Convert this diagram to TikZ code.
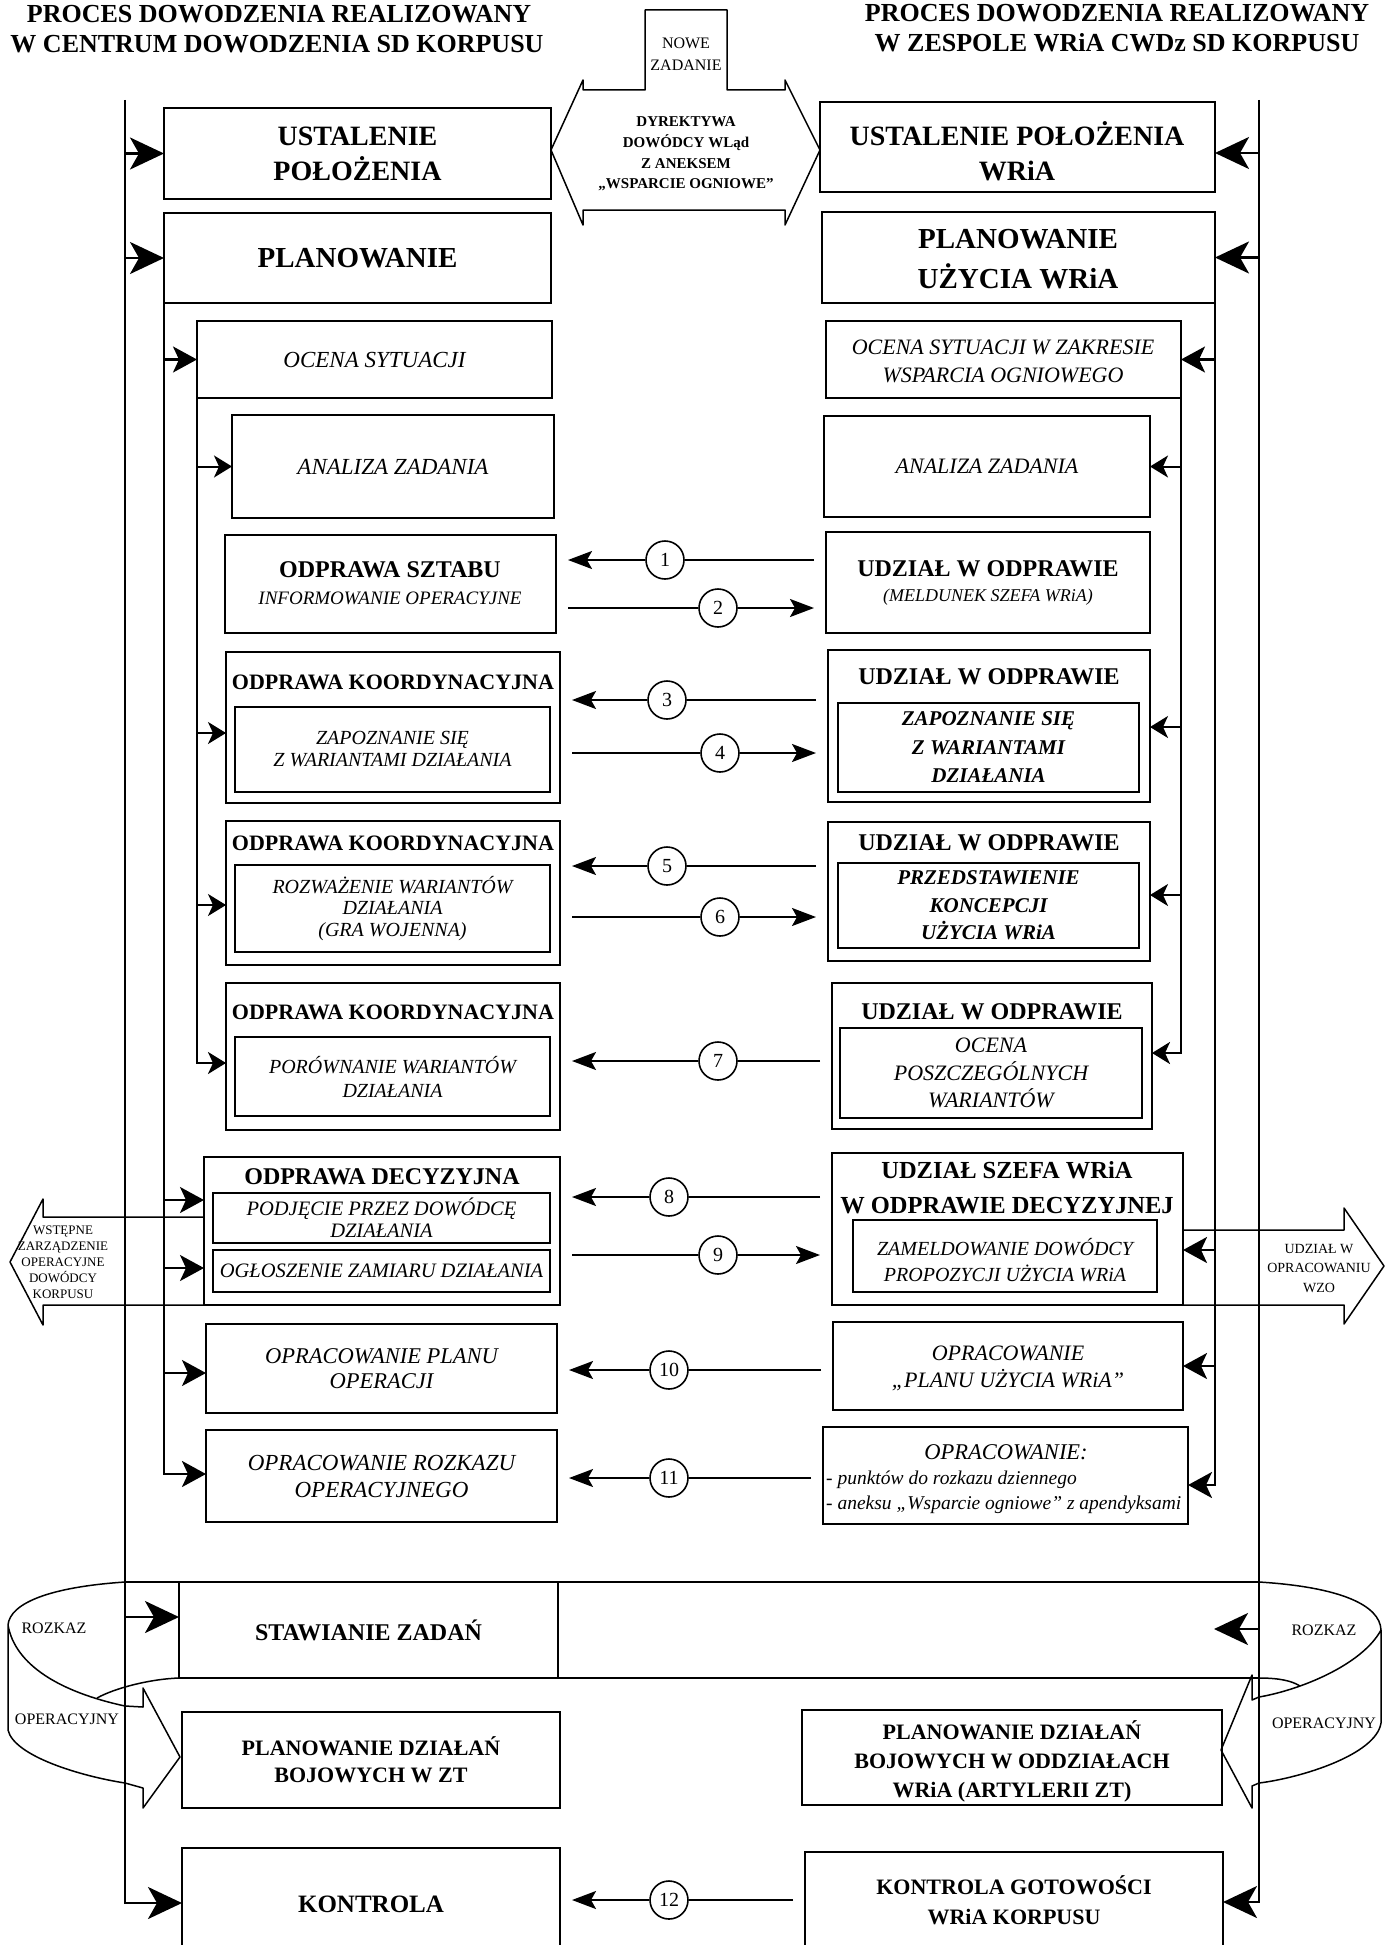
\documentclass[tikz,border=0pt]{standalone}
\usepackage{fontspec}
\setmainfont{Liberation Serif}
\usetikzlibrary{arrows.meta}
\newcommand{\mkbox}[7]{\node[bx,#6,minimum width={(#4-#2)*1pt},minimum height={(#5-#3)*1pt}] (#1) at (#2,#3) {#7};}
\newcommand{\numar}[6]{\node[numc] (#1) at (#2,#3) {#6};\draw[numl] (#4 |- #1) -- (#1);\draw[numa] (#1) -- (#5 |- #1);}
\begin{document}
\begin{tikzpicture}[x=1pt,y=-1pt,
 bx/.style={draw,line width=2.2pt,anchor=north west,inner sep=0pt,outer sep=0pt},
 tx/.style={inner sep=0pt,align=center},
 fb/.style 2 args={font=\fontsize{#1}{#2}\selectfont\bfseries},
 fi/.style 2 args={font=\fontsize{#1}{#2}\selectfont\itshape},
 fbi/.style 2 args={font=\fontsize{#1}{#2}\selectfont\bfseries\itshape},
 fr/.style 2 args={font=\fontsize{#1}{#2}\selectfont},
 vl/.style={line width=2.6pt},
 big/.style={line width=2.6pt,-{Stealth[length=34pt,width=32pt,inset=9pt]}},
 med/.style={line width=2.2pt,-{Stealth[length=24pt,width=26pt,inset=6pt]}},
 sml/.style={line width=2pt,-{Stealth[length=18pt,width=22pt,inset=5pt]}},
 numc/.style={draw,circle,line width=1.6pt,minimum size=38pt,inner sep=0pt,font=\fontsize{20}{20}\selectfont},
 numl/.style={line width=2pt,shorten <=12pt},
 numa/.style={line width=2pt,shorten >=12pt,-{Stealth[length=24pt,width=18pt,inset=5pt]}},
 hol/.style={line width=1.5pt,line join=round}]
\fill[white] (0,0) rectangle (1389,1945);
\useasboundingbox (0,0) rectangle (1389,1945);
% titles
\node[tx,fb={26}{26}] (tl1) at (279,14) {PROCES DOWODZENIA REALIZOWANY};
\node[tx,fb={26}{26}] (tl2) at (277,44) {W CENTRUM DOWODZENIA SD KORPUSU};
\node[tx,fb={26}{26}] (tr1) at (1117,13) {PROCES DOWODZENIA REALIZOWANY};
\node[tx,fb={26}{26}] (tr2) at (1117,43) {W ZESPOLE WRiA CWDz SD KORPUSU};
% top double arrow
\draw[hol] (645,10) -- (727,10) -- (727,90) -- (785,90) -- (785,80) -- (820,150) -- (785,225) -- (785,210) -- (583,210) -- (583,225) -- (551,150) -- (583,80) -- (583,90) -- (645,90) -- cycle;
\node[tx,fr={16}{22}] (nz) at (686,54) {NOWE\\ZADANIE};
\node[tx,fb={15}{20.7}] (dyr) at (686,154) {DYREKTYWA\\DOWÓDCY WLąd\\Z ANEKSEM\\„WSPARCIE OGNIOWE”};
% left column
\mkbox{ustL}{164}{108}{551}{199}{tx,fb={28}{35}}{USTALENIE\\POŁOŻENIA}
\mkbox{planL}{164}{213}{551}{303}{tx,fb={29}{29}}{PLANOWANIE}
\mkbox{ocenaL}{197}{321}{552}{398}{tx,fi={23}{23}}{OCENA SYTUACJI}
\mkbox{analizaL}{232}{415}{554}{518}{tx,fi={23}{23}}{ANALIZA ZADANIA}
\mkbox{sztabL}{225}{535}{556}{633}{}{}
\node[tx,fb={24}{24}] (sztabLt) at (390,570) {ODPRAWA SZTABU};
\node[tx,fi={19}{19}] (sztabLs) at (390,598) {INFORMOWANIE OPERACYJNE};
\mkbox{k1L}{226}{652}{560}{803}{}{}
\node[tx,fb={22}{22}] (k1Lt) at (393,682) {ODPRAWA KOORDYNACYJNA};
\mkbox{k1Li}{235}{707}{550}{792}{tx,fi={20}{22}}{ZAPOZNANIE SIĘ\\Z WARIANTAMI DZIAŁANIA}
\mkbox{k2L}{226}{821}{560}{965}{}{}
\node[tx,fb={22}{22}] (k2Lt) at (393,843) {ODPRAWA KOORDYNACYJNA};
\mkbox{k2Li}{235}{865}{550}{952}{tx,fi={20}{21.5}}{ROZWAŻENIE WARIANTÓW\\DZIAŁANIA\\(GRA WOJENNA)}
\mkbox{k3L}{226}{983}{560}{1130}{}{}
\node[tx,fb={22}{22}] (k3Lt) at (393,1012) {ODPRAWA KOORDYNACYJNA};
\mkbox{k3Li}{235}{1037}{550}{1116}{tx,fi={20}{24}}{PORÓWNANIE WARIANTÓW\\DZIAŁANIA}
\mkbox{decL}{204}{1157}{560}{1305}{}{}
\node[tx,fb={24}{24}] (decLt) at (382,1177) {ODPRAWA DECYZYJNA};
\mkbox{decLa}{213}{1193}{550}{1243}{tx,fi={20.5}{22}}{PODJĘCIE PRZEZ DOWÓDCĘ\\DZIAŁANIA}
\mkbox{decLb}{213}{1250}{550}{1292}{tx,fi={20.5}{20.5}}{OGŁOSZENIE ZAMIARU DZIAŁANIA}
\mkbox{planopL}{206}{1324}{557}{1413}{tx,fi={22.5}{25}}{OPRACOWANIE PLANU\\OPERACJI}
\mkbox{rozkazL}{206}{1430}{557}{1522}{tx,fi={23}{27}}{OPRACOWANIE ROZKAZU\\OPERACYJNEGO}
\mkbox{stawL}{179}{1582}{558}{1678}{tx,fb={24}{24}}{STAWIANIE ZADAŃ}
\mkbox{planZT}{182}{1712}{560}{1808}{tx,fb={22}{27}}{PLANOWANIE DZIAŁAŃ\\BOJOWYCH W ZT}
\mkbox{kontrolaL}{182}{1848}{560}{1960}{tx,fb={25}{25}}{KONTROLA}
% right column
\mkbox{ustR}{820}{102}{1215}{192}{}{}
\node[tx,fb={28}{35}] (ustRt) at (1017,151) {USTALENIE POŁOŻENIA\\WRiA};
\mkbox{planR}{822}{212}{1215}{303}{}{}
\node[tx,fb={29}{40}] (planRt) at (1018,259) {PLANOWANIE\\UŻYCIA WRiA};
\mkbox{ocenaR}{826}{321}{1181}{398}{}{}
\node[tx,fi={22}{28}] (ocenaRt) at (1003,361) {OCENA SYTUACJI W ZAKRESIE\\WSPARCIA OGNIOWEGO};
\mkbox{analizaR}{824}{416}{1150}{517}{tx,fi={22}{22}}{ANALIZA ZADANIA}
\mkbox{udzR}{826}{532}{1150}{633}{}{}
\node[tx,fb={24}{24}] (udzRt) at (988,569) {UDZIAŁ W ODPRAWIE};
\node[tx,fi={18}{18}] (udzRs) at (988,597) {(MELDUNEK SZEFA WRiA)};
\mkbox{k1R}{828}{650}{1150}{802}{}{}
\node[tx,fb={24}{24}] (k1Rt) at (989,677) {UDZIAŁ W ODPRAWIE};
\mkbox{k1Ri}{838}{703}{1139}{792}{tx,fbi={21}{28.5}}{ZAPOZNANIE SIĘ\\Z WARIANTAMI\\DZIAŁANIA}
\mkbox{k2R}{828}{822}{1150}{961}{}{}
\node[tx,fb={24}{24}] (k2Rt) at (989,843) {UDZIAŁ W ODPRAWIE};
\mkbox{k2Ri}{838}{863}{1139}{948}{tx,fbi={21}{27.5}}{PRZEDSTAWIENIE\\KONCEPCJI\\UŻYCIA WRiA}
\mkbox{k3R}{832}{983}{1152}{1129}{}{}
\node[tx,fb={24}{24}] (k3Rt) at (992,1012) {UDZIAŁ W ODPRAWIE};
\mkbox{k3Ri}{840}{1028}{1142}{1118}{tx,fi={22}{27.5}}{OCENA\\POSZCZEGÓLNYCH\\WARIANTÓW}
\mkbox{decR}{832}{1153}{1183}{1305}{}{}
\node[tx,fb={24.5}{35}] (decRt) at (1007,1188) {UDZIAŁ SZEFA WRiA\\W ODPRAWIE DECYZYJNEJ};
\mkbox{decRi}{853}{1220}{1157}{1292}{}{}
\node[tx,fi={20}{26}] (decRit) at (1005,1260) {ZAMELDOWANIE DOWÓDCY\\PROPOZYCJI UŻYCIA WRiA};
\mkbox{planR2}{833}{1322}{1183}{1410}{}{}
\node[tx,fi={22}{27}] (planR2t) at (1008,1368) {OPRACOWANIE\\„PLANU UŻYCIA WRiA”};
\mkbox{rozkazR}{823}{1427}{1188}{1524}{}{}
\node[tx,fi={22.5}{22.5}] (rozkazRt) at (1006,1452) {OPRACOWANIE:};
\node[inner sep=0pt,anchor=west,fi={19.5}{19.5}] (rozkazRa) at (826,1480) {- punktów do rozkazu dziennego};
\node[inner sep=0pt,anchor=west,fi={19.5}{19.5}] (rozkazRb) at (826,1505) {- aneksu „Wsparcie ogniowe” z apendyksami};
\mkbox{planR3}{802}{1710}{1222}{1805}{}{}
\node[tx,fb={22}{29}] (planR3t) at (1012,1761) {PLANOWANIE DZIAŁAŃ\\BOJOWYCH W ODDZIAŁACH\\WRiA (ARTYLERII ZT)};
\mkbox{kontrolaR}{805}{1852}{1223}{1960}{}{}
\node[tx,fb={22}{30}] (kontrolaRt) at (1014,1900) {KONTROLA GOTOWOŚCI\\WRiA KORPUSU};
% hollow side arrows
\draw[hol] (decL.west |- 0,1217) -- (43,1217) -- (43,1199) -- (10,1262) -- (43,1325) -- (43,1305) -- (decL.south west);
\node[tx,fr={13}{16}] (wst) at (63,1262) {WSTĘPNE\\ZARZĄDZENIE\\OPERACYJNE\\DOWÓDCY\\KORPUSU};
\draw[hol] (decR.east |- 0,1230) -- (1344,1230) -- (1344,1208) -- (1384,1266) -- (1344,1324) -- (1344,1305) -- (decR.south east);
\node[tx,fr={14}{19.5}] (udzw) at (1319,1268) {UDZIAŁ W\\OPRACOWANIU\\WZO};
% band and ribbons
\draw[line width=2pt] (125,1582) -- (1259,1582);
\draw[line width=2pt] (stawL.south east) -- (1259,1678);
\draw[hol] (125,1582) .. controls (50,1587) and (10,1603) .. (8,1625) -- (8,1730) .. controls (14,1756) and (80,1776) .. (125,1783) -- (143,1788) -- (143,1808) -- (180,1757) -- (143,1688) -- (143,1707) -- (125,1706) .. controls (60,1692) and (15,1665) .. (8,1625);
\draw[hol] (stawL.south west) .. controls (150,1679) and (115,1688) .. (97,1698);
\draw[hol] (1259,1582) .. controls (1340,1587) and (1380,1605) .. (1381,1630) -- (1381,1723) .. controls (1376,1755) and (1300,1778) .. (1259,1783) -- (1252,1786) -- (1252,1808) -- (1221,1750) -- (1252,1675) -- (1252,1700) -- (1259,1697) .. controls (1300,1690) and (1362,1665) .. (1381,1630);
\draw[hol] (1259,1678) .. controls (1280,1678) and (1292,1681) .. (1300,1686);
\node[tx,fr={16}{16}] (rozL) at (54,1628) {ROZKAZ};
\node[tx,fr={16}{16}] (opL) at (67,1719) {OPERACYJNY};
\node[tx,fr={16}{16}] (rozR) at (1324,1630) {ROZKAZ};
\node[tx,fr={16}{16}] (opR) at (1324,1723) {OPERACYJNY};
% vertical lines
\coordinate (LoT) at (125,100); \coordinate (LoB) at (125,1903);
\coordinate (LsT) at (164,303); \coordinate (LsB) at (164,1474);
\coordinate (LtT) at (197,398); \coordinate (LtB) at (197,1063);
\coordinate (RoT) at (1259,100); \coordinate (RoB) at (1259,1902);
\coordinate (RsT) at (1215,303); \coordinate (RsB) at (1215,1485);
\coordinate (RtT) at (1181,398); \coordinate (RtB) at (1181,1053);
\draw[big] (LoT) -- (LoB) -- (kontrolaL.west |- LoB);
\draw[med,line width=2.6pt] (LsT) -- (LsB) -- (rozkazL.west |- LsB);
\draw[sml,line width=2.6pt] (LtT) -- (LtB) -- (k3L.west |- LtB);
\draw[big] (RoT) -- (RoB) -- (kontrolaR.east |- RoB);
\draw[med,line width=2.6pt] (RsT) -- (RsB) -- (rozkazR.east |- RsB);
\draw[sml,line width=2.6pt] (RtT) -- (RtB) -- (k3R.east |- RtB);
% level 1
\draw[big] (LoT |- ustL.west) -- (ustL.west);
\draw[big] (LoT |- planL.west) -- (planL.west);
\draw[big] (LoT |- 0,1617) -- (stawL.west |- 0,1617);
\draw[big] (RoT |- 0,153) -- (ustR.east |- 0,153);
\draw[big] (RoT |- planR.east) -- (planR.east);
\coordinate (stawRtip) at (1214,1629);
\draw[big] (RoT |- stawRtip) -- (stawRtip);
% level 2
\draw[med] (LsT |- ocenaL.west) -- (ocenaL.west);
\draw[med] (LsT |- 0,1200) -- (decL.west |- 0,1200);
\draw[med] (LsT |- 0,1268) -- (decL.west |- 0,1268);
\draw[med] (LsT |- 0,1373) -- (planopL.west |- 0,1373);
\draw[med] (RsT |- ocenaR.east) -- (ocenaR.east);
\draw[med] (RsT |- 0,1250) -- (decR.east |- 0,1250);
\draw[med] (RsT |- planR2.east) -- (planR2.east);
% level 3
\draw[sml] (LtT |- analizaL.west) -- (analizaL.west);
\draw[sml] (LtT |- 0,733) -- (k1L.west |- 0,733);
\draw[sml] (LtT |- 0,905) -- (k2L.west |- 0,905);
\draw[sml] (RtT |- analizaR.east) -- (analizaR.east);
\draw[sml] (RtT |- 0,727) -- (k1R.east |- 0,727);
\draw[sml] (RtT |- 0,895) -- (k2R.east |- 0,895);
% numbered arrows
\numar{c1}{665}{560}{udzR.west}{sztabL.east}{1}
\numar{c2}{718}{608}{sztabL.east}{udzR.west}{2}
\numar{c3}{667}{700}{k1R.west}{k1L.east}{3}
\numar{c4}{720}{753}{k1L.east}{k1R.west}{4}
\numar{c5}{667}{866}{k2R.west}{k2L.east}{5}
\numar{c6}{720}{917}{k2L.east}{k2R.west}{6}
\numar{c7}{718}{1061}{k3R.west}{k3L.east}{7}
\numar{c8}{669}{1197}{decR.west}{decL.east}{8}
\numar{c9}{718}{1255}{decL.east}{decR.west}{9}
\numar{c10}{669}{1370}{planR2.west}{planopL.east}{10}
\numar{c11}{669}{1478}{rozkazR.west}{rozkazL.east}{11}
\numar{c12}{669}{1900}{kontrolaR.west}{kontrolaL.east}{12}
\end{tikzpicture}
\end{document}
